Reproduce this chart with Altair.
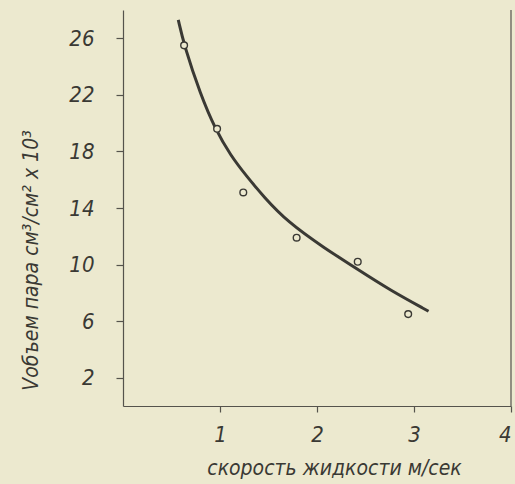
import altair as alt
import pandas as pd

# measured points (open circles)
point_x = [0.63, 0.97, 1.24, 1.79, 2.42, 2.94]
point_y = [25.5, 19.6, 15.1, 11.9, 10.2, 6.5]

# smooth curve
curve_x = [0.57, 0.63, 0.80, 0.95, 1.11, 1.28, 1.45, 1.70, 2.07, 2.41, 2.75, 3.15]
curve_y = [27.3, 25.5, 22.0, 19.6, 17.7, 16.2, 14.8, 13.0, 11.2, 9.7, 8.2, 6.7]

x_ticks = [1, 2, 3, 4]
y_ticks = [2, 4, 6, 8, 10, 12, 14, 16, 18, 20, 22, 24, 26]
y_labels = [2, 6, 10, 14, 18, 22, 26]

x_title = "скорость жидкости  м/сек"
y_title = "Vобъем пара   см³/см² x 10³"

ink = "#3a3934"
paper = "#ECE9CF"
font = "DejaVu Sans Condensed"

pts = pd.DataFrame({"x": point_x, "y": point_y})
crv = pd.DataFrame({"x": curve_x, "y": curve_y})
frame = pd.DataFrame({"x": [4], "y0": [0], "y1": [28]})

label_set = "[" + ",".join(str(v) for v in y_labels) + "]"

xs = alt.Scale(domain=[0, 4], nice=False)
ys = alt.Scale(domain=[0, 28], nice=False)

x_axis = alt.Axis(
    values=x_ticks, format="d", title=x_title, tickSize=6, labelPadding=12,
    labelFontSize=22, titleFontSize=21, titleFontWeight="normal",
    titleFontStyle="italic", labelFontStyle="italic",
    titleX=211, titleY=68, titleBaseline="alphabetic", titleAnchor="start",
    titleAlign="center",
)
y_axis = alt.Axis(
    values=y_ticks, format="d", title=y_title, tickSize=7, labelPadding=22,
    labelExpr=f"indexof({label_set}, datum.value) >= 0 ? datum.label : ''",
    labelFontSize=22, titleFontSize=21, titleFontWeight="normal",
    titleFontStyle="italic", labelFontStyle="italic",
    titleAngle=-90, titleX=-92, titleY=250, titleBaseline="middle",
    titleAlign="center",
)

curve = alt.Chart(crv).mark_line(
    color=ink, strokeWidth=3, interpolate="basis"
).encode(
    x=alt.X("x:Q", scale=xs, axis=x_axis),
    y=alt.Y("y:Q", scale=ys, axis=y_axis),
)

points = alt.Chart(pts).mark_point(
    shape="circle", filled=True, fill=paper, stroke=ink, strokeWidth=1.4, size=45, opacity=1
).encode(
    x=alt.X("x:Q", scale=xs),
    y=alt.Y("y:Q", scale=ys),
)

right = alt.Chart(frame).mark_rule(color="#55534c", strokeWidth=1.2).encode(
    x=alt.X("x:Q", scale=xs),
    y=alt.Y("y0:Q", scale=ys),
    y2="y1:Q",
)

chart = alt.layer(right, curve, points).properties(
    width=388, height=396,
    background=paper,
    autosize=alt.AutoSizeParams(type="none"),
    padding={"left": 123, "top": 10, "right": 4, "bottom": 78},
).configure_view(stroke=None).configure_axis(
    grid=False, domainColor="#55534c", domainWidth=1.2,
    tickColor="#55534c", tickWidth=1.2,
    labelFont=font, titleFont=font, labelColor=ink, titleColor=ink,
)

chart.save("out.html", embed_options={"renderer": "svg", "actions": False})
